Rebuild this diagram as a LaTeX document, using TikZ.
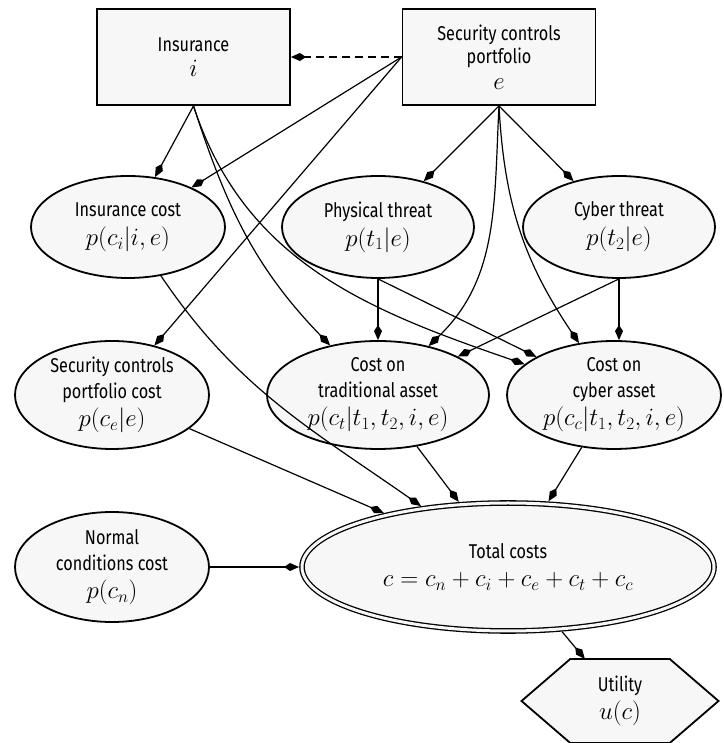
\documentclass[tikz,border=0pt]{standalone}
\usepackage{fontspec}
\setmainfont[FakeStretch=0.81]{Fira Sans}
\usetikzlibrary{arrows.meta,shapes.geometric,calc}
\definecolor{nodefill}{HTML}{F7F7F7}
\newcommand\mth[1]{{\fontsize{25}{28}\selectfont$#1$}}
\begin{document}
\begin{tikzpicture}[x=1pt,y=1pt,
  border/.style={draw=black, line width=1.8pt, fill=nodefill},
  box/.style={border, rectangle, minimum width=193pt, minimum height=96pt, inner sep=0pt},
  blob/.style={border, ellipse, inner sep=0pt},
  txt/.style={align=center, inner sep=0pt, font=\fontsize{20}{23}\selectfont},
  inside/.style={label={[txt]center:{#1}}},
  link/.style={line width=1.2pt, -{Kite[length=15pt,width=8pt,inset=6pt]}},
]
\useasboundingbox (0,0) rectangle (723,743);

% decision nodes
\node[box, inside={Insurance\\[2pt]\mth{i}}] (ins) at (193.5,686) {};
\node[box, inside={Security controls\\portfolio\\[3pt]\mth{e}}] (sec) at (499,686) {};

% chance nodes
\node[blob, minimum width=194pt, minimum height=102pt,
      inside={Insurance cost\\[6pt]\mth{p(c_i|i,e)}}] (inscost) at (128,516) {};
\node[blob, minimum width=192pt, minimum height=102pt,
      inside={Physical threat\\[6pt]\mth{p(t_1|e)}}] (phys) at (378,516) {};
\node[blob, minimum width=192pt, minimum height=102pt,
      inside={Cyber threat\\[6pt]\mth{p(t_2|e)}}] (cyth) at (619,516) {};
\node[blob, minimum width=194pt, minimum height=108pt,
      inside={Security controls\\[3pt]portfolio cost\\[5pt]\mth{p(c_e|e)}}] (seccost) at (112,348) {};
\node[blob, minimum width=222pt, minimum height=108pt,
      inside={Cost on\\[3pt]traditional asset\\[5pt]\mth{p(c_t|t_1,t_2,i,e)}}] (trad) at (378,348) {};
\node[blob, minimum width=214pt, minimum height=108pt,
      inside={Cost on\\[3pt]cyber asset\\[5pt]\mth{p(c_c|t_1,t_2,i,e)}}] (cybas) at (614,348) {};
\node[blob, minimum width=194pt, minimum height=110pt,
      inside={Normal\\[3pt]conditions cost\\[5pt]\mth{p(c_n)}}] (normal) at (112,176) {};

% deterministic node
\node[blob, line width=1.3pt, double=nodefill, double distance=3pt, outer sep=3pt,
      minimum width=412pt, minimum height=128pt,
      inside={Total costs\\[5pt]\mth{c = c_n + c_i + c_e + c_t + c_c}}] (total) at (508,176) {};

% utility node (flat-topped hexagon)
\node[minimum width=195pt, minimum height=82pt, inner sep=0pt, outer sep=1pt] (util) at (620,42) {};
\draw[border, line join=miter]
  (util.west) -- ([xshift=48.75pt]util.north west) -- ([xshift=-48.75pt]util.north east)
  -- (util.east) -- ([xshift=-48.75pt]util.south east) -- ([xshift=48.75pt]util.south west) -- cycle;
\node[txt] (utiltext) at (util.center) {Utility\\[5pt]\mth{u(c)}};

% links
\draw[link, dashed, dash pattern=on 8pt off 5pt] (sec.west) -- (ins.east);
\draw[link] (ins.south) -- (inscost);
\draw[link] (sec.west) -- (inscost);
\draw[link] (sec.west) -- (seccost);
\draw[link] (sec.south) -- (phys);
\draw[link] (sec.south) -- (cyth);
\draw[link] (sec.south) to[out=-93,in=44] (trad);
\draw[link] (sec.south) to[out=-87,in=124] (cybas);
\draw[link] (ins.south) to[out=-72,in=134] (trad);
\draw[link] (ins.south) to[out=-72,in=161] (cybas);
\draw[link] (phys.south) -- (trad);
\draw[link] (phys.south) -- (cybas);
\draw[link] (cyth.south) -- (cyth.south |- cybas.north);
\draw[link] (cyth.south) -- (trad);
\draw[link] (inscost) to[out=-56,in=145] (total);
\draw[link] (seccost) -- (total);
\draw[link] (trad) -- (total);
\draw[link] (cybas) -- (total);
\draw[link] (normal) -- (total);
\draw[link] (total) -- (util);
\end{tikzpicture}
\end{document}
